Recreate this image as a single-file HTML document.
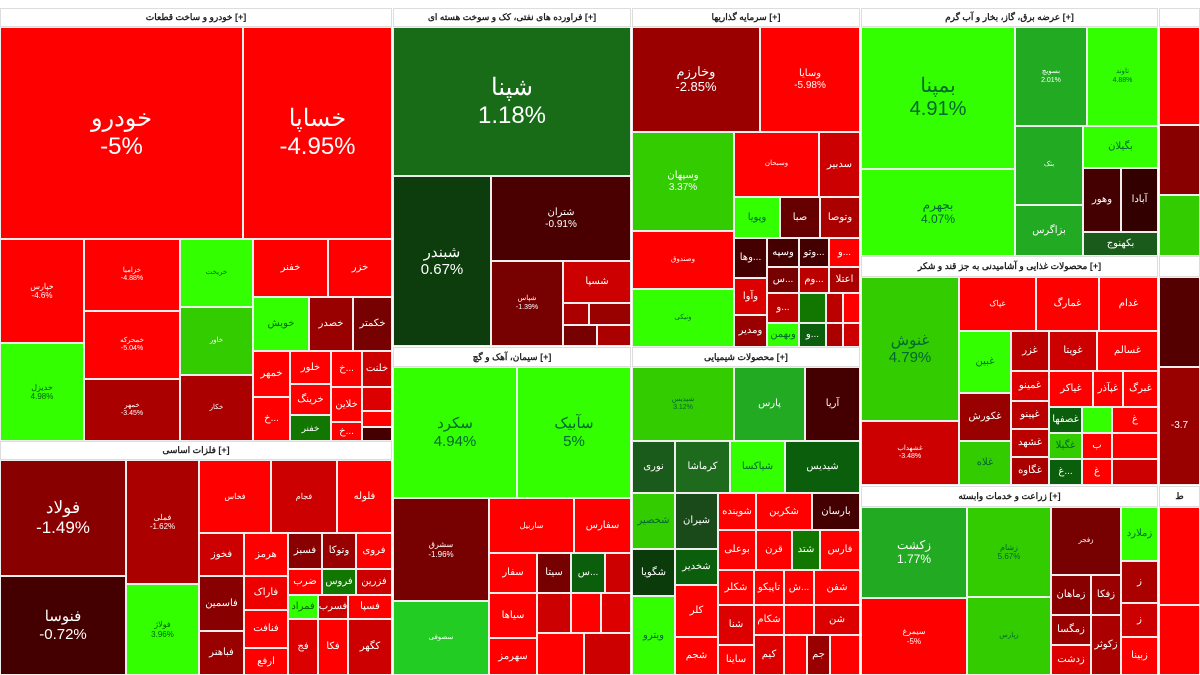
<!DOCTYPE html>
<html><head><meta charset="utf-8"><style>
body{margin:0;width:1200px;height:675px;background:#fff;position:relative;overflow:hidden;font-family:"Liberation Sans","Noto Sans CJK SC",sans-serif}
div{position:absolute;box-sizing:border-box;border:1px solid #eee;color:#fff;display:flex;align-items:center;justify-content:center;text-align:center;font-size:10px;line-height:1.15;overflow:hidden;white-space:nowrap}
.h{background:#fff;color:#222;font-weight:bold;font-size:9px;border:1px solid #ddd}
.k{color:#063}
.big{font-size:24px}.mid{font-size:15px}
</style></head><body>
<div class="h" style="left:0;top:8px;width:392px;height:19px">خودرو و ساخت قطعات [+]</div>
<div class="big" style="left:0;top:27px;width:243px;height:212px;background:#f00">خودرو<br>-5%</div>
<div class="big" style="left:243px;top:27px;width:149px;height:212px;background:#f00">خساپا<br>-4.95%</div>
<div style="left:0;top:239px;width:84px;height:104px;background:#f00;font-size:8px">خپارس<br>-4.6%</div>
<div style="left:0;top:343px;width:84px;height:98px;background:#3f0;color:#060;font-size:8px">خدیزل<br>4.98%</div>
<div style="left:84px;top:239px;width:96px;height:72px;background:#f00;font-size:7px">خزامیا<br>-4.88%</div>
<div style="left:84px;top:311px;width:96px;height:68px;background:#f00;font-size:7px">خمحرکه<br>-5.04%</div>
<div style="left:84px;top:379px;width:96px;height:62px;background:#a00;font-size:7px">خمهر<br>-3.45%</div>
<div style="left:180px;top:239px;width:73px;height:68px;background:#3f0;color:#060;font-size:7px">خریخت</div>
<div style="left:180px;top:307px;width:73px;height:68px;background:#3c0;font-size:7px">خاور</div>
<div style="left:180px;top:375px;width:73px;height:66px;background:#a00;font-size:7px">خکار</div>
<div style="left:253px;top:239px;width:75px;height:58px;background:#f00">خفنر</div>
<div style="left:328px;top:239px;width:64px;height:58px;background:#f00">خزر</div>
<div style="left:253px;top:297px;width:56px;height:54px;background:#3f0;color:#060">خویش</div>
<div style="left:309px;top:297px;width:44px;height:54px;background:#900">خصدر</div>
<div style="left:353px;top:297px;width:39px;height:54px;background:#700">خکمتر</div>
<div style="left:253px;top:351px;width:37px;height:46px;background:#f00">خمهر</div>
<div style="left:253px;top:397px;width:37px;height:44px;background:#f00">خ...</div>
<div style="left:290px;top:351px;width:41px;height:33px;background:#f00">خلور</div>
<div style="left:290px;top:384px;width:41px;height:31px;background:#f00">خرینگ</div>
<div style="left:290px;top:415px;width:41px;height:26px;background:#170;font-size:9px">خفنر</div>
<div style="left:331px;top:351px;width:31px;height:36px;background:#f00">خ...</div>
<div style="left:331px;top:387px;width:31px;height:35px;background:#f00">خلاین</div>
<div style="left:331px;top:422px;width:31px;height:19px;background:#f00">خ...</div>
<div style="left:362px;top:351px;width:30px;height:36px;background:#c00">خلنت</div>
<div style="left:362px;top:387px;width:30px;height:24px;background:#d00"></div>
<div style="left:362px;top:411px;width:30px;height:16px;background:#f00"></div>
<div style="left:362px;top:427px;width:30px;height:14px;background:#400"></div>
<div class="h" style="left:0;top:441px;width:392px;height:19px">فلزات اساسی [+]</div>
<div class="big" style="left:0;top:460px;width:126px;height:116px;background:#800;font-size:17px">فولاد<br>-1.49%</div>
<div class="mid" style="left:0;top:576px;width:126px;height:99px;background:#400">فنوسا<br>-0.72%</div>
<div style="left:126px;top:460px;width:73px;height:124px;background:#a00;font-size:8px">فملی<br>-1.62%</div>
<div style="left:126px;top:584px;width:73px;height:91px;background:#3f0;color:#060;font-size:8px">فولاژ<br>3.96%</div>
<div style="left:199px;top:460px;width:72px;height:73px;background:#f00;font-size:8px">فخاس</div>
<div style="left:271px;top:460px;width:66px;height:73px;background:#c00;font-size:8px">فجام</div>
<div style="left:337px;top:460px;width:55px;height:73px;background:#f00">فلوله</div>
<div style="left:199px;top:533px;width:45px;height:43px;background:#c00">فخوز</div>
<div style="left:199px;top:576px;width:45px;height:55px;background:#800">فاسمین</div>
<div style="left:199px;top:631px;width:45px;height:44px;background:#900">فباهنر</div>
<div style="left:244px;top:533px;width:44px;height:43px;background:#f00">هرمز</div>
<div style="left:244px;top:576px;width:44px;height:34px;background:#e00">فاراک</div>
<div style="left:244px;top:610px;width:44px;height:38px;background:#f00">فنافت</div>
<div style="left:244px;top:648px;width:44px;height:27px;background:#f00">ارفع</div>
<div style="left:288px;top:533px;width:34px;height:36px;background:#800">فسبز</div>
<div style="left:322px;top:533px;width:34px;height:36px;background:#900">وتوکا</div>
<div style="left:356px;top:533px;width:36px;height:36px;background:#f00">فروی</div>
<div style="left:288px;top:569px;width:34px;height:26px;background:#f00">ضرب</div>
<div style="left:322px;top:569px;width:34px;height:26px;background:#170">فروس</div>
<div style="left:356px;top:569px;width:36px;height:26px;background:#c00">فزرین</div>
<div style="left:288px;top:595px;width:30px;height:24px;background:#3f0;color:#060">فمراد</div>
<div style="left:318px;top:595px;width:30px;height:24px;background:#c00">فسرب</div>
<div style="left:348px;top:595px;width:44px;height:24px;background:#f00">فسپا</div>
<div style="left:288px;top:619px;width:30px;height:56px;background:#d00">فج</div>
<div style="left:318px;top:619px;width:30px;height:56px;background:#f00">فکا</div>
<div style="left:348px;top:619px;width:44px;height:56px;background:#c00">کگهر</div>

<div class="h" style="left:393px;top:8px;width:238px;height:19px">فراورده های نفتی، کک و سوخت هسته ای [+]</div>
<div class="big" style="left:393px;top:27px;width:238px;height:149px;background:#186c18">شپنا<br>1.18%</div>
<div class="mid" style="left:393px;top:176px;width:98px;height:170px;background:#0d3d0d">شبندر<br>0.67%</div>
<div style="left:491px;top:176px;width:140px;height:85px;background:#4a0000">شتران<br>-0.91%</div>
<div style="left:491px;top:261px;width:72px;height:85px;background:#700;font-size:7px">شپاس<br>-1.39%</div>
<div style="left:563px;top:261px;width:68px;height:42px;background:#c00">شسپا</div>
<div style="left:563px;top:303px;width:26px;height:22px;background:#a00"></div>
<div style="left:589px;top:303px;width:42px;height:22px;background:#900"></div>
<div style="left:563px;top:325px;width:34px;height:21px;background:#700"></div>
<div style="left:597px;top:325px;width:34px;height:21px;background:#a00"></div>
<div class="h" style="left:393px;top:347px;width:238px;height:20px">سیمان، آهک و گچ [+]</div>
<div class="mid" style="left:393px;top:367px;width:124px;height:131px;background:#3f0;color:#063">سکرد<br>4.94%</div>
<div class="mid" style="left:517px;top:367px;width:114px;height:131px;background:#3f0;color:#063">سآبیک<br>5%</div>
<div style="left:393px;top:498px;width:96px;height:103px;background:#700;font-size:8px">سشرق<br>-1.96%</div>
<div style="left:393px;top:601px;width:96px;height:74px;background:#2c2;font-size:7px">سصوفی</div>
<div style="left:489px;top:498px;width:85px;height:55px;background:#f00;font-size:8px">ساربیل</div>
<div style="left:574px;top:498px;width:57px;height:55px;background:#f00">سفارس</div>
<div style="left:489px;top:553px;width:48px;height:40px;background:#f00">سفار</div>
<div style="left:537px;top:553px;width:34px;height:40px;background:#700">سیتا</div>
<div style="left:571px;top:553px;width:34px;height:40px;background:#0b5e0b">س...</div>
<div style="left:605px;top:553px;width:26px;height:40px;background:#c00"></div>
<div style="left:489px;top:593px;width:48px;height:45px;background:#f00">سیاها</div>
<div style="left:489px;top:638px;width:48px;height:37px;background:#f00">سهرمز</div>
<div style="left:537px;top:593px;width:34px;height:40px;background:#c00"></div>
<div style="left:571px;top:593px;width:30px;height:40px;background:#f00"></div>
<div style="left:601px;top:593px;width:30px;height:40px;background:#d00"></div>
<div style="left:537px;top:633px;width:47px;height:42px;background:#f00"></div>
<div style="left:584px;top:633px;width:47px;height:42px;background:#c00"></div>

<div class="h" style="left:632px;top:8px;width:228px;height:19px">سرمایه گذاریها [+]</div>
<div class="mid" style="left:632px;top:27px;width:128px;height:105px;background:#9a0000;font-size:13px">وخارزم<br>-2.85%</div>
<div style="left:760px;top:27px;width:100px;height:105px;background:#f00">وسایا<br>-5.98%</div>
<div style="left:632px;top:132px;width:102px;height:99px;background:#3c0">وسپهان<br>3.37%</div>
<div style="left:734px;top:132px;width:85px;height:65px;background:#f00;font-size:7px">وسبحان</div>
<div style="left:819px;top:132px;width:41px;height:65px;background:#c00">سدبیر</div>
<div style="left:632px;top:231px;width:102px;height:58px;background:#f00;font-size:7px">وصندوق</div>
<div style="left:632px;top:289px;width:102px;height:58px;background:#3f0;color:#063;font-size:7px">ونیکی</div>
<div style="left:734px;top:197px;width:46px;height:41px;background:#3f0;color:#063">وپویا</div>
<div style="left:780px;top:197px;width:40px;height:41px;background:#600">صبا</div>
<div style="left:820px;top:197px;width:40px;height:41px;background:#a00">وتوصا</div>
<div style="left:734px;top:238px;width:33px;height:40px;background:#400">وها...</div>
<div style="left:767px;top:238px;width:32px;height:29px;background:#400">وسپه</div>
<div style="left:799px;top:238px;width:30px;height:29px;background:#400">وتو...</div>
<div style="left:829px;top:238px;width:31px;height:29px;background:#f00">و...</div>
<div style="left:767px;top:267px;width:32px;height:26px;background:#700">س...</div>
<div style="left:799px;top:267px;width:30px;height:26px;background:#b00">وم...</div>
<div style="left:829px;top:267px;width:31px;height:26px;background:#a00">اعتلا</div>
<div style="left:734px;top:278px;width:33px;height:37px;background:#d00">وآوا</div>
<div style="left:734px;top:315px;width:33px;height:32px;background:#900">ومدیر</div>
<div style="left:767px;top:293px;width:32px;height:30px;background:#b00">و...</div>
<div style="left:767px;top:323px;width:32px;height:24px;background:#3f0;color:#063">وبهمن</div>
<div style="left:799px;top:293px;width:27px;height:30px;background:#170"></div>
<div style="left:799px;top:323px;width:27px;height:24px;background:#0b5e0b">و...</div>
<div style="left:826px;top:293px;width:17px;height:30px;background:#b00"></div>
<div style="left:843px;top:293px;width:17px;height:30px;background:#f00"></div>
<div style="left:826px;top:323px;width:17px;height:24px;background:#a00"></div>
<div style="left:843px;top:323px;width:17px;height:24px;background:#c00"></div>
<div class="h" style="left:632px;top:347px;width:228px;height:20px">محصولات شیمیایی [+]</div>
<div style="left:632px;top:367px;width:102px;height:74px;background:#3c0;color:#063;font-size:7px">شپدیس<br>3.12%</div>
<div style="left:734px;top:367px;width:71px;height:74px;background:#2a2">پارس</div>
<div style="left:805px;top:367px;width:55px;height:74px;background:#400">آریا</div>
<div style="left:632px;top:441px;width:43px;height:52px;background:#1a5a1a">نوری</div>
<div style="left:675px;top:441px;width:55px;height:52px;background:#1e6b1e">کرماشا</div>
<div style="left:730px;top:441px;width:55px;height:52px;background:#3f0;color:#063">شیاکسا</div>
<div style="left:785px;top:441px;width:75px;height:52px;background:#0b5e0b">شیدیس</div>
<div style="left:632px;top:493px;width:43px;height:56px;background:#3c0;color:#063">شخصیر</div>
<div style="left:675px;top:493px;width:43px;height:56px;background:#1a4a1a">شیران</div>
<div style="left:718px;top:493px;width:38px;height:37px;background:#f00">شوینده</div>
<div style="left:756px;top:493px;width:56px;height:37px;background:#f00">شکربن</div>
<div style="left:812px;top:493px;width:48px;height:37px;background:#400">بارسان</div>
<div style="left:718px;top:530px;width:38px;height:40px;background:#f00">بوعلی</div>
<div style="left:756px;top:530px;width:36px;height:40px;background:#f00">قرن</div>
<div style="left:792px;top:530px;width:28px;height:40px;background:#170">شتد</div>
<div style="left:820px;top:530px;width:40px;height:40px;background:#f00">فارس</div>
<div style="left:632px;top:549px;width:43px;height:47px;background:#0b3a0b">شگویا</div>
<div style="left:675px;top:549px;width:43px;height:36px;background:#0b5e0b">شخدیر</div>
<div style="left:632px;top:596px;width:43px;height:79px;background:#3f0;color:#063">ویترو</div>
<div style="left:675px;top:585px;width:43px;height:52px;background:#f00">کلر</div>
<div style="left:675px;top:637px;width:43px;height:38px;background:#f00">شجم</div>
<div style="left:718px;top:570px;width:36px;height:35px;background:#f00">شکلر</div>
<div style="left:754px;top:570px;width:30px;height:35px;background:#f00">تاپیکو</div>
<div style="left:784px;top:570px;width:30px;height:35px;background:#f00">ش...</div>
<div style="left:814px;top:570px;width:46px;height:35px;background:#f00">شفن</div>
<div style="left:718px;top:605px;width:36px;height:40px;background:#d00">شنا</div>
<div style="left:754px;top:605px;width:30px;height:30px;background:#f00">شکام</div>
<div style="left:784px;top:605px;width:30px;height:30px;background:#f00"></div>
<div style="left:814px;top:605px;width:46px;height:30px;background:#d00">شن</div>
<div style="left:718px;top:645px;width:36px;height:30px;background:#f00">ساینا</div>
<div style="left:754px;top:635px;width:30px;height:40px;background:#d00">کیم</div>
<div style="left:784px;top:635px;width:23px;height:40px;background:#f00"></div>
<div style="left:807px;top:635px;width:23px;height:40px;background:#900">جم</div>
<div style="left:830px;top:635px;width:30px;height:40px;background:#f00"></div>

<div class="h" style="left:861px;top:8px;width:297px;height:19px">عرضه برق، گاز، بخار و آب گرم [+]</div>
<div class="big" style="left:861px;top:27px;width:154px;height:142px;background:#3f0;color:#063;font-size:20px">بمپنا<br>4.91%</div>
<div style="left:861px;top:169px;width:154px;height:87px;background:#3f0;color:#063;font-size:12px">بجهرم<br>4.07%</div>
<div style="left:1015px;top:27px;width:72px;height:99px;background:#2a2;font-size:7px">بسویچ<br>2.01%</div>
<div style="left:1087px;top:27px;width:71px;height:99px;background:#3f0;color:#063;font-size:7px">تاوند<br>4.88%</div>
<div style="left:1015px;top:126px;width:68px;height:79px;background:#2a2;font-size:7px">بتک</div>
<div style="left:1083px;top:126px;width:75px;height:42px;background:#3f0;color:#063">بگیلان</div>
<div style="left:1015px;top:205px;width:68px;height:51px;background:#2a2">بزاگرس</div>
<div style="left:1083px;top:168px;width:38px;height:64px;background:#400">وهور</div>
<div style="left:1121px;top:168px;width:37px;height:64px;background:#300">آبادا</div>
<div style="left:1083px;top:232px;width:75px;height:24px;background:#1a5a1a">بکهنوج</div>
<div class="h" style="left:861px;top:256px;width:297px;height:21px">محصولات غذایی و آشامیدنی به جز قند و شکر [+]</div>
<div class="mid" style="left:861px;top:277px;width:98px;height:144px;background:#3c0;color:#063">غنوش<br>4.79%</div>
<div style="left:861px;top:421px;width:98px;height:64px;background:#c00;font-size:7px">غشهداب<br>-3.48%</div>
<div style="left:959px;top:277px;width:77px;height:54px;background:#f00;font-size:8px">غپاک</div>
<div style="left:1036px;top:277px;width:63px;height:54px;background:#f00">غمارگ</div>
<div style="left:1099px;top:277px;width:59px;height:54px;background:#f00">غدام</div>
<div style="left:959px;top:331px;width:52px;height:62px;background:#3f0;color:#063">غبین</div>
<div style="left:959px;top:393px;width:52px;height:48px;background:#900">غکورش</div>
<div style="left:959px;top:441px;width:52px;height:44px;background:#3c0;color:#063">غلاه</div>
<div style="left:1011px;top:331px;width:38px;height:40px;background:#b00">غزر</div>
<div style="left:1049px;top:331px;width:48px;height:40px;background:#c00">غویتا</div>
<div style="left:1097px;top:331px;width:61px;height:40px;background:#f00">غسالم</div>
<div style="left:1011px;top:371px;width:38px;height:30px;background:#d00">غمینو</div>
<div style="left:1011px;top:401px;width:38px;height:28px;background:#b00">غپینو</div>
<div style="left:1011px;top:429px;width:38px;height:28px;background:#b00">غشهد</div>
<div style="left:1011px;top:457px;width:38px;height:28px;background:#a00">غگاوه</div>
<div style="left:1049px;top:371px;width:44px;height:36px;background:#f00">غیاکر</div>
<div style="left:1093px;top:371px;width:30px;height:36px;background:#f00">غپآذر</div>
<div style="left:1123px;top:371px;width:35px;height:36px;background:#f00">غبرگ</div>
<div style="left:1049px;top:407px;width:33px;height:26px;background:#0b5e0b">غصفها</div>
<div style="left:1049px;top:433px;width:33px;height:26px;background:#3c0;color:#063">غگیلا</div>
<div style="left:1049px;top:459px;width:33px;height:26px;background:#0b5e0b">غ...</div>
<div style="left:1082px;top:407px;width:30px;height:26px;background:#3f0"></div>
<div style="left:1112px;top:407px;width:46px;height:26px;background:#f00">غ</div>
<div style="left:1082px;top:433px;width:30px;height:26px;background:#f00">ب</div>
<div style="left:1112px;top:433px;width:46px;height:26px;background:#f00"></div>
<div style="left:1082px;top:459px;width:30px;height:26px;background:#f00">غ</div>
<div style="left:1112px;top:459px;width:46px;height:26px;background:#c00"></div>
<div class="h" style="left:861px;top:486px;width:297px;height:21px">زراعت و خدمات وابسته [+]</div>
<div style="left:861px;top:507px;width:106px;height:91px;background:#2a2;font-size:12px">زکشت<br>1.77%</div>
<div style="left:861px;top:598px;width:106px;height:77px;background:#f00;font-size:8px">سیمرغ<br>-5%</div>
<div style="left:967px;top:507px;width:84px;height:90px;background:#3c0;color:#063;font-size:8px">زشام<br>5.67%</div>
<div style="left:967px;top:597px;width:84px;height:78px;background:#3c0;color:#063;font-size:7px">زپارس</div>
<div style="left:1051px;top:507px;width:70px;height:68px;background:#700;font-size:7px">زفجر</div>
<div style="left:1051px;top:575px;width:40px;height:40px;background:#800">زماهان</div>
<div style="left:1091px;top:575px;width:30px;height:40px;background:#900">زفکا</div>
<div style="left:1051px;top:615px;width:40px;height:30px;background:#900">زمگسا</div>
<div style="left:1051px;top:645px;width:40px;height:30px;background:#d00">زدشت</div>
<div style="left:1091px;top:615px;width:30px;height:60px;background:#a00">زکوثر</div>
<div style="left:1121px;top:507px;width:37px;height:54px;background:#3f0;color:#063">زملارد</div>
<div style="left:1121px;top:561px;width:37px;height:42px;background:#a00">ز</div>
<div style="left:1121px;top:603px;width:37px;height:34px;background:#c00">ز</div>
<div style="left:1121px;top:637px;width:37px;height:38px;background:#f00">زبینا</div>

<div class="h" style="left:1159px;top:8px;width:41px;height:19px"></div>
<div style="left:1159px;top:27px;width:41px;height:98px;background:#f00"></div>
<div style="left:1159px;top:125px;width:41px;height:70px;background:#800"></div>
<div style="left:1159px;top:195px;width:41px;height:61px;background:#3c0"></div>
<div class="h" style="left:1159px;top:256px;width:41px;height:21px"></div>
<div style="left:1159px;top:277px;width:41px;height:90px;background:#500"></div>
<div style="left:1159px;top:367px;width:41px;height:118px;background:#900">-3.7</div>
<div class="h" style="left:1159px;top:486px;width:41px;height:21px">ط</div>
<div style="left:1159px;top:507px;width:41px;height:98px;background:#f00"></div>
<div style="left:1159px;top:605px;width:41px;height:70px;background:#f00"></div>
</body></html>
